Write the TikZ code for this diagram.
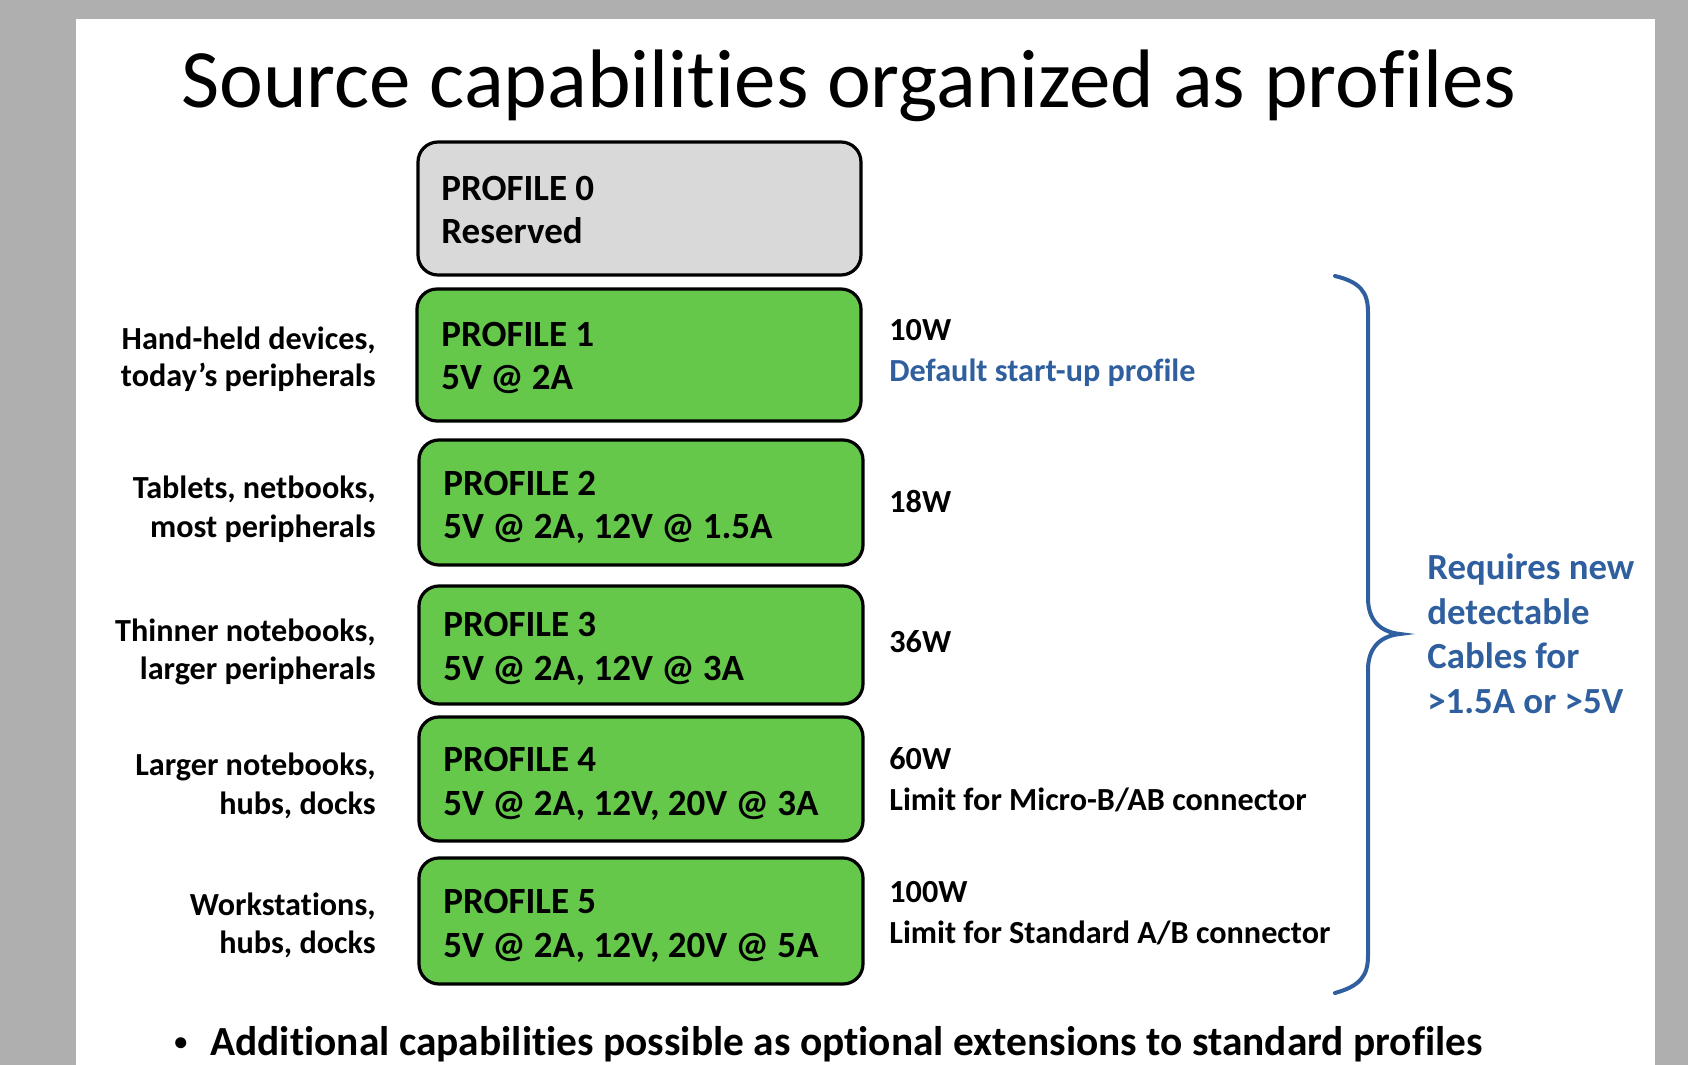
\documentclass[tikz,border=0pt]{standalone}
\usepackage{fontspec}
\setmainfont[Ligatures=NoCommon]{Carlito}
\usetikzlibrary{fit}
\definecolor{pagegray}{HTML}{AFAFAF}
\definecolor{profgreen}{HTML}{66C84B}
\definecolor{profgray}{HTML}{D9D9D9}
\definecolor{noteblue}{HTML}{2F5F9E}
\begin{document}
\begin{tikzpicture}[x=0.5pt,y=-0.5pt,
  pbox/.style={draw=black, line width=1.6pt, rounded corners=10pt, inner sep=0pt},
  ptext/.style={anchor=base west, inner sep=0pt, font=\fontsize{18.5}{22}\selectfont\bfseries},
  use/.style={anchor=base east, inner sep=0pt, font=\fontsize{16.1}{19}\selectfont\bfseries},
  watt/.style={anchor=base west, inner sep=0pt, font=\fontsize{16.1}{19}\selectfont\bfseries},
  note/.style={anchor=base west, inner sep=0pt, text=noteblue, font=\fontsize{16.1}{19}\selectfont\bfseries},
  bignote/.style={note, font=\fontsize{18.4}{22}\selectfont\bfseries}]
% page background and slide area
\fill[pagegray] (0,0) rectangle (1688,1065);
\fill[white] (76,19) rectangle (1655,1065);
\useasboundingbox (0,0) rectangle (1688,1065);

% title
\node[anchor=base, inner sep=0pt, font=\fontsize{41.5}{50}\selectfont] (title) at (849,108)
  {Source capabilities organized as profiles};

% profile boxes
\node[pbox, fill=profgray,  fit={(418,142) (861,275)}] (p0) {};
\node[pbox, fill=profgreen, fit={(417,289) (861,421)}] (p1) {};
\node[pbox, fill=profgreen, fit={(419,440) (863,565)}] (p2) {};
\node[pbox, fill=profgreen, fit={(419,586) (863,704)}] (p3) {};
\node[pbox, fill=profgreen, fit={(419,717) (863,841)}] (p4) {};
\node[pbox, fill=profgreen, fit={(419,858) (863,984)}] (p5) {};

% profile contents
\node[ptext] (p0a) at (441,200) {PROFILE 0};
\node[ptext] (p0b) at (441,243) {Reserved};
\node[ptext] (p1a) at (441,346) {PROFILE 1};
\node[ptext] (p1b) at (441,389) {5V @ 2A};
\node[ptext] (p2a) at (443,495) {PROFILE 2};
\node[ptext] (p2b) at (443,538) {5V @ 2A, 12V @ 1.5A};
\node[ptext] (p3a) at (443,636) {PROFILE 3};
\node[ptext] (p3b) at (443,680) {5V @ 2A, 12V @ 3A};
\node[ptext] (p4a) at (443,771) {PROFILE 4};
\node[ptext] (p4b) at (443,815) {5V @ 2A, 12V, 20V @ 3A};
\node[ptext] (p5a) at (443,913) {PROFILE 5};
\node[ptext] (p5b) at (443,957) {5V @ 2A, 12V, 20V @ 5A};

% typical devices
\node[use] (u1a) at (376,349) {Hand-held devices,};
\node[use] (u1b) at (376,386) {today’s peripherals};
\node[use] (u2a) at (376,498) {Tablets, netbooks,};
\node[use] (u2b) at (376,537) {most peripherals};
\node[use] (u3a) at (376,641) {Thinner notebooks,};
\node[use] (u3b) at (376,679) {larger peripherals};
\node[use] (u4a) at (376,775) {Larger notebooks,};
\node[use] (u4b) at (376,814) {hubs, docks};
\node[use] (u5a) at (376,915) {Workstations,};
\node[use] (u5b) at (376,953) {hubs, docks};

% power levels
\node[watt] (w1) at (889,340) {10W};
\node[note] (w1n) at (889,381) {Default start-up profile};
\node[watt] (w2) at (889,512) {18W};
\node[watt] (w3) at (889,652) {36W};
\node[watt] (w4) at (889,769) {60W};
\node[watt] (w4n) at (889,810) {Limit for Micro-B/AB connector};
\node[watt] (w5) at (889,902) {100W};
\node[watt] (w5n) at (889,943) {Limit for Standard A/B connector};

% brace over profiles 1-5
\draw[noteblue, line width=2pt, line cap=round]
  (1335,276) .. controls (1360,282) and (1368,292) .. (1368,312)
  -- (1368,598) .. controls (1368,620) and (1380,632) .. (1400,634)
  .. controls (1380,636) and (1368,648) .. (1368,670)
  -- (1368,956) .. controls (1368,976) and (1360,986) .. (1335,993);

% cable note
\node[bignote] (c1) at (1427,579) {Requires new};
\node[bignote] (c2) at (1427,624) {detectable};
\node[bignote] (c3) at (1427,668) {Cables for};
\node[bignote] (c4) at (1427,713) {>1.5A or >5V};

% bullet line
\node[anchor=base west, inner sep=0pt, font=\fontsize{13}{16}\selectfont\bfseries] (bul) at (174,1050) {•};
\node[anchor=base west, inner sep=0pt, font=\fontsize{20.7}{25}\selectfont\bfseries] (ext) at (210,1055)
  {Additional capabilities possible as optional extensions to standard profiles};
\end{tikzpicture}
\end{document}
